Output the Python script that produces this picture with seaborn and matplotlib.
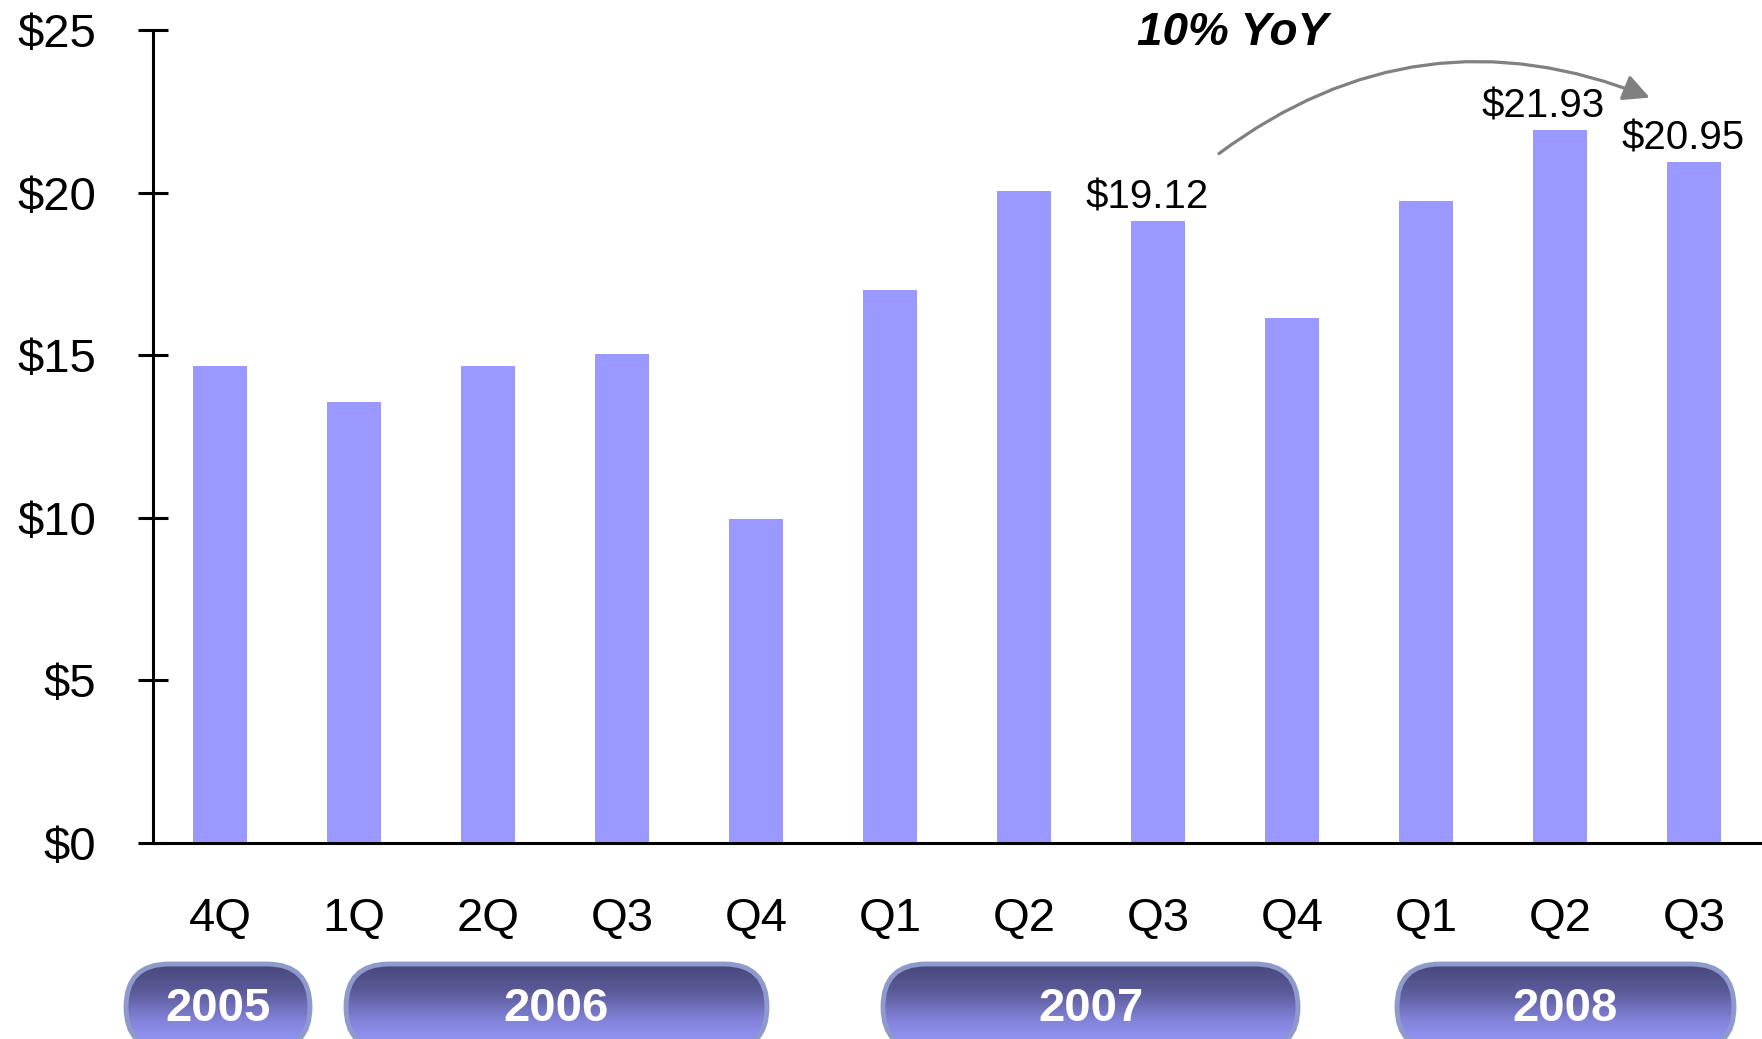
import numpy as np
import pandas as pd
import matplotlib
matplotlib.use("Agg")
import matplotlib.pyplot as plt
from matplotlib.patches import FancyBboxPatch
from matplotlib.colors import LinearSegmentedColormap
from matplotlib.ticker import FixedLocator
import seaborn as sns

# ---- data ----
quarters = ["4Q", "1Q", "2Q", "Q3", "Q4", "Q1", "Q2", "Q3", "Q4", "Q1", "Q2", "Q3"]
bar_years = ["2005", "2006", "2006", "2006", "2006", "2007", "2007", "2007", "2007",
             "2008", "2008", "2008"]
values = [14.68, 13.57, 14.68, 15.03, 9.97, 17.0, 20.05, 19.12, 16.14, 19.74, 21.93, 20.95]
labeled_bars = [7, 10, 11]
yoy_text = "10% YoY"
years = ["2005", "2006", "2007", "2008"]
y_ticks = [0, 5, 10, 15, 20, 25]

# ---- layout (pixels / styles) ----
W, H = 1762, 1039
pill_x = [(126, 310), (346, 767), (883, 1298), (1397, 1734)]
pill_top, pill_bottom = 964, 1050      # pixels from top
pill_text_y = 1009
label_dx = [-8, -12, -8]   # points

sns.set_style("white")
plt.rcParams["font.family"] = ["Liberation Sans", "DejaVu Sans"]
plt.rcParams["text.color"] = "black"
plt.rcParams["xtick.color"] = "black"
plt.rcParams["ytick.color"] = "black"

fig = plt.figure(figsize=(W / 100, H / 100), dpi=100)

# overlay for year pills (pixel coordinates, y up)
ov = fig.add_axes([0, 0, 1, 1])
ov.set_facecolor("none")
ov.axis("off")
cmap = LinearSegmentedColormap.from_list("pill", ["#9a9aff", "#8484dc", "#5c5c9c", "#47477a"])
grad = np.linspace(0, 1, 256).reshape(-1, 1)
y0, y1 = H - pill_bottom, H - pill_top
r = (y1 - y0) / 2
for (x0, x1), yr in zip(pill_x, years):
    patch = FancyBboxPatch((x0, y0), x1 - x0, y1 - y0,
                           boxstyle=f"round,pad=0,rounding_size={r}",
                           facecolor="none", edgecolor="none")
    ov.add_patch(patch)
    im = ov.imshow(grad, cmap=cmap, extent=(x0, x1, y0, y1), origin="lower",
                   aspect="auto", interpolation="bilinear")
    im.set_clip_path(patch)
    border = FancyBboxPatch((x0, y0), x1 - x0, y1 - y0,
                            boxstyle=f"round,pad=0,rounding_size={r}",
                            facecolor="none", edgecolor="#8e9acb", linewidth=3.5)
    ov.add_patch(border)
    ov.text((x0 + x1) / 2, H - pill_text_y, yr, color="white", fontsize=34,
            fontweight="bold", ha="center", va="center")
ov.set_xlim(0, W)
ov.set_ylim(0, H)

# main axes
ax = fig.add_axes([153 / W, 1 - 843 / H, 1608 / W, (843 - 30) / H])
ax.set_facecolor("none")
keys = [f"{y}-{q}-{i}" for i, (y, q) in enumerate(zip(bar_years, quarters))]
df = pd.DataFrame({"key": keys, "value": values})
sns.barplot(data=df, x="key", y="value", order=keys, color="#9999ff",
            saturation=1, width=0.41, errorbar=None, ax=ax, linewidth=0)

ax.set_xlim(-0.5, len(values) - 0.5)
ax.set_ylim(0, 25)
ax.set_xlabel("")
ax.set_ylabel("")
ax.set_xticks(range(len(values)))
ax.set_xticklabels(quarters)
ax.xaxis.set_minor_locator(FixedLocator(np.arange(-0.5, len(values), 1)))
ax.tick_params(axis="x", which="major", length=0, pad=39, labelsize=34,
               labelcolor="black")
ax.tick_params(axis="x", which="minor", length=11, width=2.2, direction="out",
               color="black")
ax.set_yticks(y_ticks)
ax.set_yticklabels([f"${v}" for v in y_ticks])
ax.tick_params(axis="y", which="major", length=22, width=2.2, direction="inout",
               pad=30, labelsize=34, color="black", labelcolor="black", left=True)
for s in ["top", "right"]:
    ax.spines[s].set_visible(False)
for s in ["left", "bottom"]:
    ax.spines[s].set_color("black")
    ax.spines[s].set_linewidth(2.2)

for idx, dx in zip(labeled_bars, label_dx):
    ax.annotate(f"${values[idx]:.2f}", xy=(idx, values[idx]), xytext=(dx, 9),
                textcoords="offset points", ha="center", va="baseline",
                fontsize=29, color="black", annotation_clip=False)

# YoY arrow from Q3'07 to Q3'08
ax.annotate("", xy=(10.67, 22.92), xytext=(7.455, 21.2),
            arrowprops=dict(arrowstyle="-|>,head_length=0.8,head_width=0.4",
                            connectionstyle="arc3,rad=-0.28", color="#808080",
                            lw=2.3, shrinkA=0, shrinkB=0, mutation_scale=20),
            annotation_clip=False)
ax.text(7.56, 24.9, yoy_text, fontsize=33, fontweight="bold", fontstyle="italic",
        ha="center", va="center", color="black", clip_on=False)

fig.savefig("out.png", dpi=100)
